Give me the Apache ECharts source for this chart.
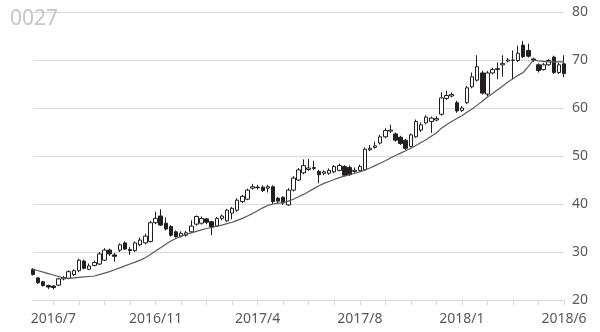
<!DOCTYPE html>
<html><head><meta charset="utf-8">
<script src="https://cdn.jsdelivr.net/npm/echarts@6/dist/echarts.min.js"></script>
<style>html,body{margin:0;padding:0;background:#fff}#c{width:600px;height:332px}</style>
</head><body><div id="c"></div>
<script>
const title = "0027";
const dates = [
"2016/6/3","2016/6/10","2016/6/17","2016/6/24","2016/7/1","2016/7/8","2016/7/15","2016/7/22","2016/7/29","2016/8/5",
"2016/8/12","2016/8/19","2016/8/26","2016/9/2","2016/9/9","2016/9/16","2016/9/23","2016/9/30","2016/10/7","2016/10/14",
"2016/10/21","2016/10/28","2016/11/4","2016/11/11","2016/11/18","2016/11/25","2016/12/2","2016/12/9","2016/12/16","2016/12/23",
"2016/12/30","2017/1/6","2017/1/13","2017/1/20","2017/1/27","2017/2/3","2017/2/10","2017/2/17","2017/2/24","2017/3/3",
"2017/3/10","2017/3/17","2017/3/24","2017/3/31","2017/4/7","2017/4/14","2017/4/21","2017/4/28","2017/5/5","2017/5/12",
"2017/5/19","2017/5/26","2017/6/2","2017/6/9","2017/6/16","2017/6/23","2017/6/30","2017/7/7","2017/7/14","2017/7/21",
"2017/7/28","2017/8/4","2017/8/11","2017/8/18","2017/8/25","2017/9/1","2017/9/8","2017/9/15","2017/9/22","2017/9/29",
"2017/10/6","2017/10/13","2017/10/20","2017/10/27","2017/11/3","2017/11/10","2017/11/17","2017/11/24","2017/12/1","2017/12/8",
"2017/12/15","2017/12/22","2017/12/29","2018/1/5","2018/1/12","2018/1/19","2018/1/26","2018/2/2","2018/2/9","2018/2/16",
"2018/2/23","2018/3/2","2018/3/9","2018/3/16","2018/3/23","2018/3/30","2018/4/6","2018/4/13","2018/4/20","2018/4/27",
"2018/5/4","2018/5/11","2018/5/18","2018/5/25","2018/6/1"];
const open = [
26.4,24.6,23.8,23.0,22.9,23.1,24.4,24.5,25.3,26.1,
28.1,26.4,27.2,27.5,28.3,30.4,29.4,30.4,31.9,30.5,
30.3,31.5,31.9,32.2,36.1,37.5,36.0,35.3,34.2,33.3,
33.5,34.2,35.8,36.0,36.9,36.3,35.4,37.0,36.5,38.1,
38.7,40.5,41.0,43.3,43.5,43.5,43.3,43.6,41.2,41.4,
39.8,42.9,45.0,46.5,47.2,47.4,46.8,46.4,46.4,46.7,
47.0,47.8,47.6,46.8,47.0,47.1,51.3,51.8,52.7,54.0,
55.2,54.6,53.9,53.3,52.0,54.0,55.4,56.9,57.2,57.5,
58.7,62.0,62.5,61.1,59.5,61.1,64.4,65.8,67.3,62.9,
67.3,68.0,69.0,69.8,69.9,69.9,73.1,72.0,70.2,69.0,
68.0,69.0,70.6,67.4,69.2];
const close = [
25.3,23.6,23.0,22.7,22.6,24.4,24.7,25.9,26.1,28.3,
26.6,27.1,27.8,29.6,30.4,29.6,29.1,31.5,30.6,30.3,
31.9,32.5,33.3,36.1,37.0,35.6,34.8,33.5,33.2,33.9,
34.0,35.4,37.4,37.0,36.2,35.2,37.0,37.5,38.7,39.1,
40.8,41.6,42.9,43.6,43.4,42.8,43.6,40.5,40.6,40.2,
42.9,45.4,47.1,48.0,47.5,47.6,46.1,46.7,47.0,47.8,
48.0,46.0,46.1,47.0,47.8,51.4,51.6,52.1,54.0,55.3,
55.4,53.3,52.6,51.6,54.4,57.2,56.5,58.1,57.9,57.8,
62.1,62.6,62.8,59.4,60.0,64.2,66.5,68.6,63.1,67.3,
68.0,68.2,69.3,70.0,70.0,71.4,70.7,70.8,70.0,67.8,
69.0,69.9,67.4,69.0,67.2];
const low = [
25.1,23.3,22.8,22.3,22.2,22.9,24.1,24.3,25.0,25.8,
26.4,26.2,27.0,27.3,28.1,29.2,28.0,30.0,30.4,29.4,
30.0,31.2,31.6,32.0,35.8,35.4,34.5,33.2,33.0,33.0,
33.2,34.0,35.5,35.7,35.8,33.5,35.2,36.6,36.3,36.8,
38.4,40.2,40.8,43.0,43.0,42.5,42.4,40.0,40.2,39.8,
39.6,42.6,44.8,46.2,46.9,47.0,44.3,46.0,46.1,46.4,
46.8,45.8,45.9,46.5,46.8,46.9,51.0,51.5,52.4,53.7,
54.8,53.0,52.3,51.2,51.8,53.8,55.0,56.6,54.8,57.2,
58.4,61.7,62.2,59.0,59.2,60.8,64.1,65.5,62.8,62.4,
67.0,66.0,66.5,69.5,66.0,69.6,70.4,70.5,69.6,67.4,
67.8,68.8,67.1,67.1,66.4];
const high = [
26.6,24.8,24.0,23.2,23.1,24.6,25.0,26.2,26.4,28.6,
28.4,27.6,28.2,30.0,30.8,30.7,29.8,31.8,32.2,31.0,
32.2,33.0,33.8,36.5,38.4,38.9,37.2,35.6,34.5,34.3,
34.4,36.6,37.6,37.4,37.1,36.5,37.3,37.8,39.0,39.4,
41.2,41.9,43.2,44.2,44.0,43.9,44.0,43.9,41.5,41.6,
43.3,45.8,47.5,49.3,49.4,49.0,47.1,47.0,47.4,48.1,
48.4,48.1,48.0,47.6,48.2,51.8,52.3,53.0,54.4,55.8,
56.5,54.9,54.2,53.6,54.7,57.6,57.0,58.5,58.2,58.3,
63.3,63.6,63.2,61.5,60.4,64.6,67.4,71.0,67.8,67.7,
68.4,69.5,71.0,70.4,72.0,73.0,74.0,73.4,70.5,69.3,
69.4,70.2,70.9,69.4,71.0];
const ma = [
26.4,26.1,25.8,25.5,25.2,24.9,24.6,24.5,24.6,24.7,
24.8,24.9,25.0,25.3,25.6,25.9,26.3,26.7,27.1,27.5,
27.9,28.3,28.8,29.5,30.2,30.9,31.6,32.3,32.8,33.3,
33.7,34.0,34.3,34.6,34.9,35.1,35.4,35.6,35.9,36.2,
36.6,37.0,37.5,38.0,38.6,39.2,39.7,40.0,40.2,40.3,
40.6,41.0,41.5,42.0,42.6,43.2,43.8,44.3,44.7,45.1,
45.5,45.8,46.1,46.4,46.7,47.1,47.5,48.0,48.5,49.0,
49.6,50.1,50.6,51.1,51.6,52.2,52.8,53.4,54.1,54.8,
55.8,56.5,57.2,57.8,58.4,59.1,59.8,60.6,61.4,62.3,
63.0,63.8,64.6,65.4,66.1,66.8,67.4,68.6,70.0,69.8,
69.7,69.6,69.6,69.6,69.6];
const yTicks = [20, 30, 40, 50, 60, 70, 80];

const ohlc = dates.map((d, i) => [open[i], close[i], low[i], high[i]]);
const labelIdx = i => (i - 4) % 20 === 0;
const tickIdx = i => (i - 4) % 5 === 0;

const chart = echarts.init(document.getElementById('c'), null, {renderer: 'canvas'});
chart.setOption({
  animation: false,
  backgroundColor: '#fff',
  title: {text: title, left: 5, top: 4, textStyle: {fontFamily: 'Noto Sans', fontSize: 21, fontWeight: 'normal', color: '#c6c6c6'}},
  grid: {left: 33, right: 36, top: 12, bottom: 32},
  xAxis: {
    type: 'category', data: dates, boundaryGap: false,
    axisLine: {lineStyle: {color: '#d9d9d9', width: 1}},
    axisTick: {show: true, interval: (i) => tickIdx(i), length: 5, lineStyle: {color: '#d9d9d9'}},
    axisLabel: {interval: (i) => labelIdx(i), margin: 12, color: '#595959', fontFamily: 'Noto Sans', fontSize: 14,
      formatter: v => { const p = v.split('/'); return p[0] + '/' + p[1]; }},
    splitLine: {show: false}
  },
  yAxis: {
    type: 'value', position: 'right', min: yTicks[0], max: yTicks[yTicks.length - 1], interval: 10, scale: true,
    axisLine: {show: false}, axisTick: {show: false},
    axisLabel: {margin: 8, color: '#595959', fontFamily: 'Noto Sans', fontSize: 14},
    splitLine: {lineStyle: {color: '#d9d9d9', width: 1}}
  },
  series: [
    {type: 'candlestick', data: ohlc, barWidth: 4,
     itemStyle: {color: '#ffffff', color0: '#231f20', borderColor: '#231f20', borderColor0: '#231f20', borderWidth: 1}},
    {type: 'line', data: ma, symbol: 'none', smooth: false, lineStyle: {color: '#5a5a5a', width: 1.2}, z: 3}
  ]
});
</script></body></html>
